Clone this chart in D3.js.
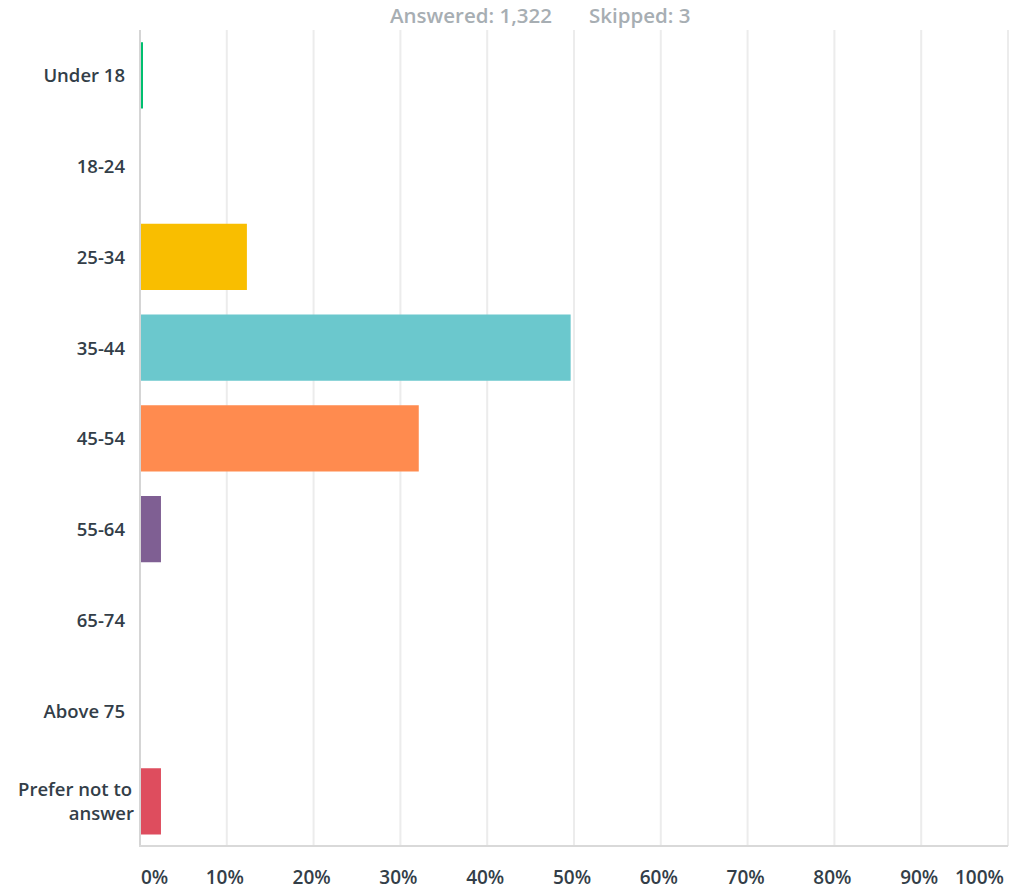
<!DOCTYPE html>
<html lang="en">
<head>
    <meta charset="UTF-8">
    <title>Age of respondents</title>
    <script src="https://cdn.jsdelivr.net/npm/d3@7"></script>
    <style>
        body { margin: 0; background: #fff; }
        * { font-family: 'Open Sans', sans-serif; }
    </style>
</head>
<body>
<script>
    const categories = ["Under 18", "18-24", "25-34", "35-44", "45-54", "55-64", "65-74", "Above 75", "Prefer not to answer"];
    const percents = [0.23, 0, 12.2, 49.5, 32.0, 2.3, 0, 0, 2.3];
    const barColors = ["#00bf6f", "#507cb6", "#f9be00", "#6bc8cd", "#ff8b4f", "#7f5f93", "#ac1a2f", "#a0a0a0", "#de4d5e"];
    const tickValues = [0, 10, 20, 30, 40, 50, 60, 70, 80, 90, 100];
    const answered = "Answered: 1,322";
    const skipped = "Skipped: 3";

    const width = 1010, height = 892;
    const svg = d3.select("body").append("svg").attr("width", width).attr("height", height);

    const x = d3.scaleLinear().domain([0, 100]).range([140, 1008]);
    const y = d3.scaleBand().domain(categories).range([30, 846.75]).paddingInner(0.27).paddingOuter(0.135);

    // header
    const head = svg.append("g").style("fill", "#a7aeb3").style("font-size", "20.5px").style("font-weight", 600);
    head.append("text").attr("x", 390).attr("y", 23).text(answered);
    head.append("text").attr("x", 589).attr("y", 23).text(skipped);

    // grid lines
    svg.append("g").selectAll("line").data(tickValues.slice(1)).join("line")
        .attr("x1", d => x(d)).attr("x2", d => x(d))
        .attr("y1", 30).attr("y2", 846)
        .attr("stroke", "#ececec").attr("stroke-width", 2);

    // axis lines
    svg.append("line").attr("x1", 140).attr("x2", 140).attr("y1", 30).attr("y2", 847)
        .attr("stroke", "#d5d5d5").attr("stroke-width", 2);
    svg.append("line").attr("x1", 139).attr("x2", 1008).attr("y1", 846).attr("y2", 846)
        .attr("stroke", "#d9d9d9").attr("stroke-width", 2);

    // bars
    svg.append("g").selectAll("rect").data(categories).join("rect")
        .attr("x", x(0) + 1)
        .attr("y", d => y(d))
        .attr("width", (d, i) => x(percents[i]) - x(0))
        .attr("height", y.bandwidth())
        .attr("fill", (d, i) => barColors[i]);

    // x tick labels
    svg.append("g").selectAll("text").data(tickValues).join("text")
        .attr("x", d => d === 0 ? x(d) + 1 : d === 100 ? x(d) - 4 : x(d) - 2)
        .attr("y", 884)
        .attr("text-anchor", d => d === 0 ? "start" : d === 100 ? "end" : "middle")
        .style("fill", "#333e48").style("font-size", "19px").style("font-weight", 600)
        .text(d => d + "%");

    // category labels
    const labels = svg.append("g").style("fill", "#333e48").style("font-size", "18.5px").style("font-weight", 600);
    categories.forEach(c => {
        const cy = y(c) + y.bandwidth() / 2;
        const t = labels.append("text").attr("text-anchor", "end");
        if (c === "Prefer not to answer") {
            t.append("tspan").attr("x", 132).attr("y", cy - 5).text("Prefer not to");
            t.append("tspan").attr("x", 134).attr("y", cy + 19).text("answer");
        } else {
            t.attr("x", 125).attr("y", cy + 7).text(c);
        }
    });
</script>
</body>
</html>
